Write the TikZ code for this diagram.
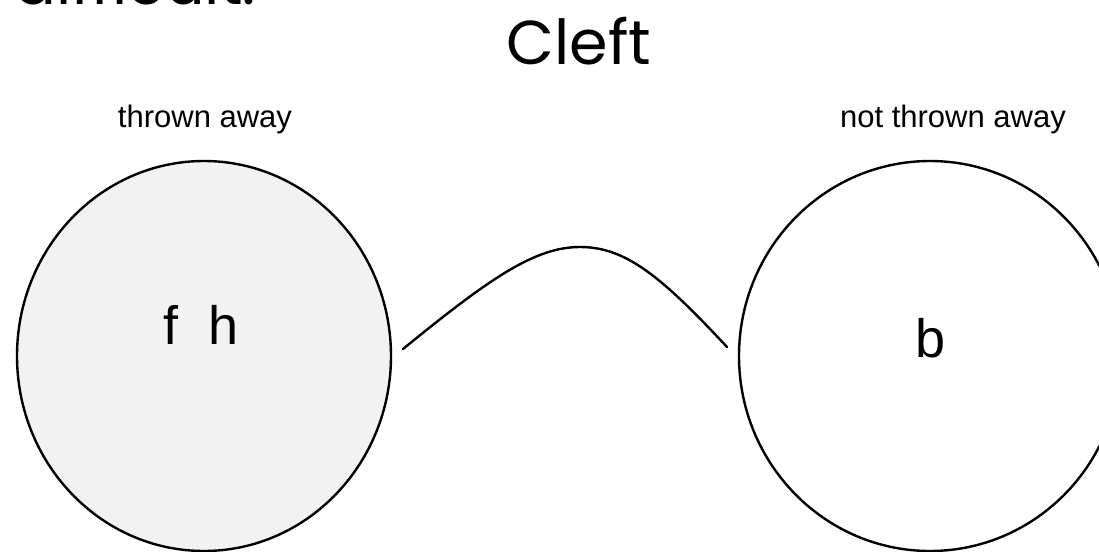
\documentclass[tikz,border=0pt]{standalone}
\usepackage{fontspec}
\setmainfont{Liberation Sans}
\newfontfamily\titlefont{Poppins}
\usetikzlibrary{shapes.geometric}
\tikzset{
  blob/.style={draw=black, line width=1.2pt, ellipse, inner sep=0pt},
  label text/.style={font=\fontsize{15.5}{18}\selectfont, anchor=base, inner sep=0pt},
  big text/.style={font=\fontsize{27}{32}\selectfont, anchor=base, inner sep=0pt},
  heading/.style={font=\titlefont\fontsize{31}{36}\selectfont, anchor=base, inner sep=0pt},
  cleft line/.style={line width=1.2pt, line cap=round}
}
\begin{document}
\begin{tikzpicture}[x=0.5pt, y=-0.5pt]
  \useasboundingbox (0,0) rectangle (1099,552);
  \clip (0,0) rectangle (1099,552);
  % headline, cut by the top edge, and title
  \node[heading, anchor=base west] (prev) at (14,4) {difficult.};
  \node[heading] (title) at (579,64) {Cleft};
  % column labels
  \node[label text] (lblL) at (205,127) {thrown away};
  \node[label text] (lblR) at (953,127) {not thrown away};
  % the two sets
  \node[blob, fill={rgb,255:red,242;green,242;blue,242}, minimum width=187pt, minimum height=195pt] (setL) at (204,356) {};
  \node[blob, fill=white, minimum width=191pt, minimum height=195pt] (setR) at (930,356) {};
  \node[big text] (fh) at (201,344) {f\hspace{0.55em}h};
  \node[big text] (b) at (931,357) {b};
  % the cleft between them
  \coordinate (cl) at (403,349);
  \coordinate (top) at (580,247);
  \coordinate (cr) at (727,347);
  \draw[cleft line] (cl) .. controls (490,278) and (535,247) .. (top)
                          .. controls (625,247) and (660,275) .. (cr);
\end{tikzpicture}
\end{document}
